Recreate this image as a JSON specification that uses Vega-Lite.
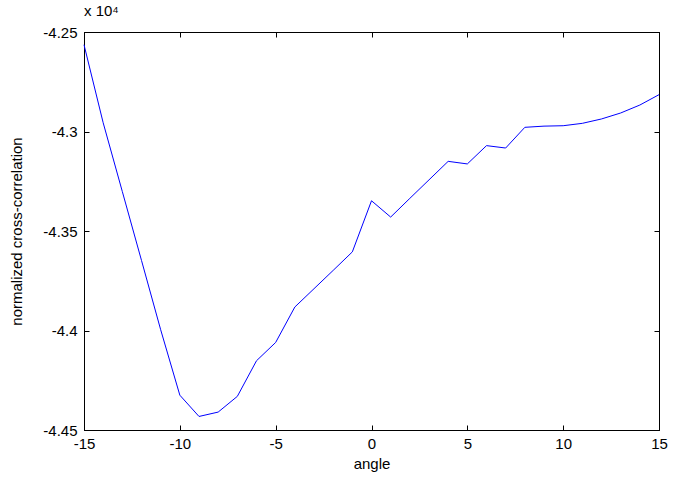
{
  "$schema": "https://vega.github.io/schema/vega-lite/v6.json",
  "autosize": {"type": "none"},
  "width": 575,
  "height": 398,
  "padding": {"left": 84, "top": 32, "right": 25, "bottom": 50},
  "background": "white",
  "title": {
    "text": "x 10⁴",
    "anchor": "start",
    "frame": "group",
    "font": "Liberation Sans",
    "fontSize": 15,
    "fontWeight": "normal",
    "color": "black",
    "offset": 6
  },
  "data": {
    "values": [
      {"angle": -15, "ncc": -42564},
      {"angle": -14, "ncc": -42956},
      {"angle": -13, "ncc": -43302},
      {"angle": -12, "ncc": -43648},
      {"angle": -11, "ncc": -43996},
      {"angle": -10, "ncc": -44325},
      {"angle": -9, "ncc": -44432},
      {"angle": -8, "ncc": -44410},
      {"angle": -7, "ncc": -44331},
      {"angle": -6, "ncc": -44152},
      {"angle": -5, "ncc": -44060},
      {"angle": -4, "ncc": -43882},
      {"angle": -3, "ncc": -43790},
      {"angle": -2, "ncc": -43698},
      {"angle": -1, "ncc": -43605},
      {"angle": 0, "ncc": -43348},
      {"angle": 1, "ncc": -43430},
      {"angle": 2, "ncc": -43336},
      {"angle": 3, "ncc": -43243},
      {"angle": 4, "ncc": -43150},
      {"angle": 5, "ncc": -43163},
      {"angle": 6, "ncc": -43071},
      {"angle": 7, "ncc": -43083},
      {"angle": 8, "ncc": -42979},
      {"angle": 9, "ncc": -42973},
      {"angle": 10, "ncc": -42971},
      {"angle": 11, "ncc": -42959},
      {"angle": 12, "ncc": -42937},
      {"angle": 13, "ncc": -42907},
      {"angle": 14, "ncc": -42867},
      {"angle": 15, "ncc": -42815}
    ]
  },
  "layer": [
    {
      "mark": {"type": "line", "color": "#0000ff", "strokeWidth": 1},
      "encoding": {
        "x": {
          "field": "angle", "type": "quantitative",
          "scale": {"domain": [-15, 15], "nice": false, "zero": false},
          "axis": {
            "orient": "bottom", "title": "angle",
            "values": [-15, -10, -5, 0, 5, 10, 15],
            "labelExpr": "'' + datum.value",
            "labelPadding": 11, "titlePadding": 5
          }
        },
        "y": {
          "field": "ncc", "type": "quantitative",
          "scale": {"domain": [-44500, -42500], "nice": false, "zero": false},
          "axis": {
            "orient": "left", "title": "normalized cross-correlation",
            "values": [-44500, -44000, -43500, -43000, -42500],
            "labelExpr": "'' + (datum.value / 10000)",
            "labelPadding": 12, "titlePadding": 18
          }
        }
      }
    },
    {
      "mark": {"type": "line", "strokeOpacity": 0},
      "encoding": {
        "x": {
          "field": "angle", "type": "quantitative",
          "axis": {"orient": "top", "title": null, "labels": false,
                   "values": [-15, -10, -5, 0, 5, 10, 15]}
        },
        "y": {
          "field": "ncc", "type": "quantitative",
          "axis": {"orient": "right", "title": null, "labels": false,
                   "values": [-44500, -44000, -43500, -43000, -42500]}
        }
      }
    }
  ],
  "resolve": {"axis": {"x": "independent", "y": "independent"}},
  "config": {
    "view": {"stroke": "black", "strokeWidth": 1},
    "axis": {
      "grid": false,
      "domainColor": "black",
      "tickColor": "black",
      "tickSize": -5,
      "labelColor": "black",
      "titleColor": "black",
      "labelFont": "Liberation Sans",
      "titleFont": "Liberation Sans",
      "labelFontSize": 15,
      "titleFontSize": 15,
      "titleFontWeight": "normal",
      "labelFlush": false,
      "labelOverlap": false
    }
  }
}
